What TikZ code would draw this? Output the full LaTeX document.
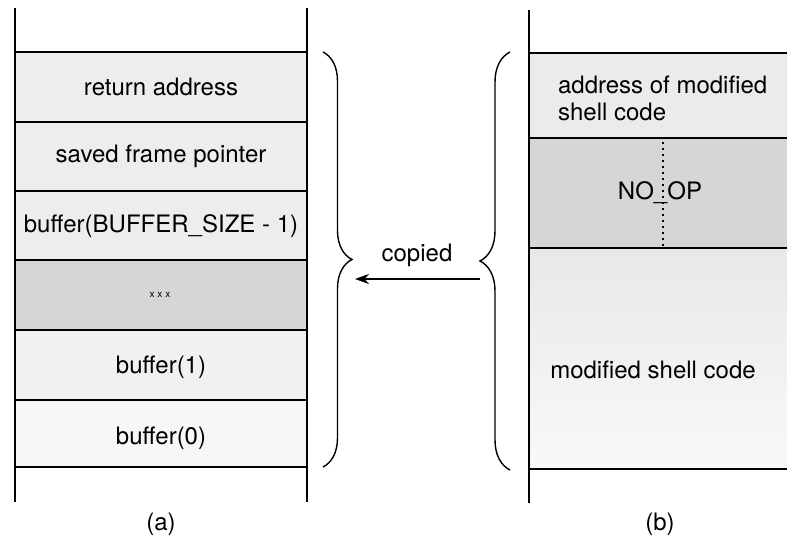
\documentclass[tikz,border=0pt]{standalone}
\usepackage{fontspec}
\setmainfont{TeX Gyre Heros}
\usetikzlibrary{arrows.meta,calc,decorations.pathreplacing}

\begin{document}
\begin{tikzpicture}[x=0.5pt,y=-0.5pt,font=\fontsize{12}{13.5}\selectfont]
\useasboundingbox (0,0) rectangle (787,542);
\coordinate (A1) at (15,52);
\coordinate (A2) at (307,467);
\coordinate (B1) at (529,53);
\coordinate (B2) at (787,469);
\coordinate (tipA) at (355,279);
\coordinate (tipB) at (480,279);

% stack (a)
\fill[gray!14] (15,52) rectangle (307,260);
\fill[gray!32] (15,260) rectangle (307,330);
\fill[gray!11] (15,330) rectangle (307,400);
\fill[gray!6] (15,400) rectangle (307,467);
\foreach \y in {52,122,191,260,330,400,467}
	\draw[line width=0.8pt] (15,\y) -- (307,\y);
\draw[line width=1pt] (15,8) -- (15,502);
\draw[line width=0.8pt] (307,8) -- (307,502);

% stack (b)
\fill[gray!16] (529,53) rectangle (787,138);
\fill[gray!32] (529,138) rectangle (787,248);
\shade[top color=gray!18,bottom color=gray!5] (529,248) rectangle (787,469);
\foreach \y in {53,138,248,469}
	\draw[line width=0.8pt] (529,\y) -- (787,\y);
\draw[line width=1pt] (529,10) -- (529,503);
\draw[dotted,line width=1pt] (663,142) -- (663,246);

\node (ret) at (161,87) {return address};
\node (sfp) at (161,156) {saved frame pointer};
\node (bufN) at (161,226) {buffer(BUFFER\_SIZE - 1)};
\node[font=\tiny] (xxx) at (160,295) {x x x};
\node (buf1) at (161,367) {buffer(1)};
\node (buf0) at (161,438) {buffer(0)};

\node[anchor=west,align=left] (addr) at (551,98) {address of modified\\shell code};
\node (nop) at (660,193) {NO\_OP};
\node (shell) at (653,370) {modified shell code};

\draw[decorate,decoration={brace,amplitude=14.5pt},line width=0.7pt] (323,52) -- (323,467);
\draw[decorate,decoration={brace,amplitude=15pt},line width=0.7pt] (510,470) -- (510,52);
\node (cpy) at (417,255) {copied};
\draw[-{Stealth[length=7pt,width=5pt]},line width=1pt] (tipB) -- (tipA);

\node (capA) at (161,524) {(a)};
\node (capB) at (660,524) {(b)};
\end{tikzpicture}
\end{document}
